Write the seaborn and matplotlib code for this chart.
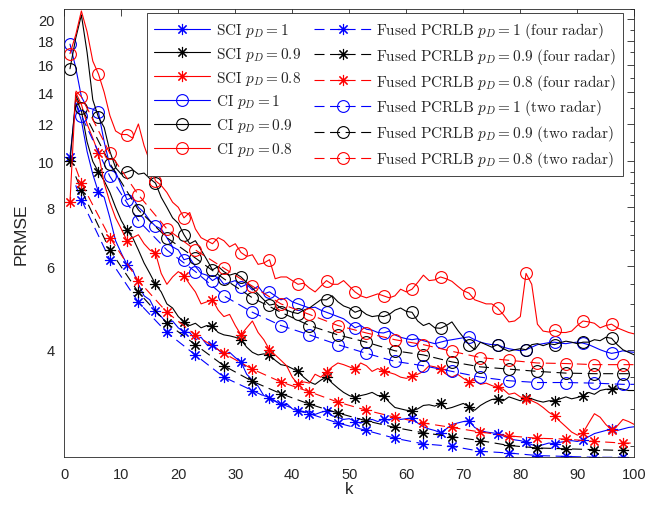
"""PRMSE of SCI / CI fusion vs fused PCRLB (log y axis)."""

import matplotlib
matplotlib.use("Agg")
import matplotlib.pyplot as plt
import numpy as np
import seaborn as sns

# ---- data ------------------------------------------------------------------
k = list(range(1, 101))

sci_pd1 = [10.2, 13.3, 12.2, 10.5, 9.4, 8.6, 8.4, 7.6, 6.8, 6.4,
           6.05, 5.9, 5.5, 5.2, 5.1, 4.83, 4.7, 4.55, 4.6, 4.45,
           4.36, 4.35, 4.2, 4.25, 4.1, 4.1, 4.0, 3.9, 3.95, 3.85,
           3.77, 3.55, 3.45, 3.35, 3.2, 3.17, 3.12, 3.05, 3.08, 3.0,
           2.97, 2.95, 2.97, 2.92, 2.95, 2.97, 2.9, 2.88, 2.85, 2.86,
           2.82, 2.8, 2.83, 2.85, 2.82, 2.86, 2.84, 2.88, 2.85, 2.86,
           2.87, 2.8, 2.75, 2.72, 2.7, 2.67, 2.72, 2.78, 2.8, 2.82,
           2.83, 2.74, 2.7, 2.68, 2.67, 2.66, 2.63, 2.6, 2.58, 2.57,
           2.55, 2.52, 2.5, 2.52, 2.54, 2.53, 2.55, 2.56, 2.57, 2.56,
           2.58, 2.62, 2.66, 2.68, 2.7, 2.72, 2.7, 2.72, 2.74, 2.75]

sci_pd09 = [10.0, 13.6, 12.8, 11.0, 10.0, 9.5, 9.1, 8.6, 8.0, 7.5,
            7.15, 6.9, 6.5, 6.1, 5.8, 5.5, 5.3, 5.0, 4.9, 4.7,
            4.58, 4.5, 4.55, 4.45, 4.5, 4.48, 4.35, 4.3, 4.28, 4.25,
            4.2, 4.05, 3.95, 3.9, 3.92, 3.9, 3.8, 3.72, 3.7, 3.65,
            3.6, 3.5, 3.42, 3.38, 3.45, 3.5, 3.4, 3.32, 3.25, 3.2,
            3.17, 3.2, 3.22, 3.25, 3.2, 3.2, 3.1, 3.02, 3.0, 2.98,
            2.97, 3.0, 3.05, 3.06, 3.04, 3.08, 3.0, 3.02, 3.05, 3.08,
            3.03, 2.98, 3.05, 3.1, 3.14, 3.15, 3.12, 3.18, 3.15, 3.12,
            3.17, 3.15, 3.12, 3.1, 3.12, 3.12, 3.15, 3.18, 3.15, 3.17,
            3.2, 3.25, 3.22, 3.28, 3.3, 3.3, 3.32, 3.3, 3.28, 3.28]

sci_pd08 = [8.2, 14.0, 13.2, 12.0, 11.2, 10.4, 9.0, 8.2, 7.6, 7.2,
            6.8, 6.9, 7.0, 6.7, 6.5, 6.4, 5.8, 5.5, 5.7, 5.85,
            5.74, 5.5, 5.3, 5.0, 5.05, 5.1, 4.85, 4.7, 4.75, 4.5,
            4.3, 4.45, 4.6, 4.35, 4.2, 4.0, 3.9, 3.8, 3.7, 3.5,
            3.38, 3.42, 3.4, 3.55, 3.5, 3.59, 3.68, 3.75, 3.72, 3.68,
            3.64, 3.75, 3.7, 3.6, 3.65, 3.6, 3.58, 3.55, 3.5, 3.48,
            3.52, 3.55, 3.6, 3.7, 3.68, 3.64, 3.55, 3.5, 3.55, 3.48,
            3.42, 3.45, 3.38, 3.4, 3.36, 3.33, 3.3, 3.22, 3.24, 3.18,
            3.15, 3.12, 3.08, 3.02, 2.95, 2.9, 2.82, 2.75, 2.68, 2.64,
            2.67, 2.8, 2.93, 2.88, 2.78, 2.71, 2.76, 2.85, 2.82, 2.78]

ci_pd1 = [17.7, 15.8, 13.7, 13.0, 12.9, 12.7, 11.0, 9.8, 9.5, 8.9,
          8.3, 8.4, 8.0, 7.8, 7.5, 7.3, 7.2, 6.9, 6.6, 6.5,
          6.2, 6.25, 6.0, 5.8, 5.75, 5.6, 5.7, 5.5, 5.55, 5.6,
          5.43, 5.5, 5.35, 5.45, 5.25, 5.3, 5.2, 5.1, 5.15, 5.05,
          5.0, 4.95, 4.9, 4.92, 4.85, 4.8, 4.75, 4.7, 4.65, 4.55,
          4.45, 4.5, 4.42, 4.4, 4.35, 4.34, 4.38, 4.3, 4.25, 4.22,
          4.2, 4.22, 4.18, 4.15, 4.12, 4.15, 4.18, 4.2, 4.22, 4.24,
          4.26, 4.2, 4.15, 4.12, 4.1, 4.1, 4.05, 4.02, 4.0, 3.98,
          4.0, 4.05, 4.1, 4.12, 4.14, 4.15, 4.13, 4.12, 4.14, 4.15,
          4.13, 4.1, 4.05, 4.0, 3.96, 3.93, 3.95, 3.98, 3.96, 3.95]

ci_pd09 = [15.7, 18.2, 20.4, 17.0, 13.5, 12.4, 11.8, 10.5, 9.7, 9.4,
           9.5, 9.6, 9.4, 9.45, 9.2, 9.0, 8.4, 8.0, 7.6, 7.4,
           7.0, 6.7, 6.8, 6.5, 6.2, 5.9, 6.0, 5.85, 5.75, 5.8,
           5.7, 5.55, 5.4, 5.25, 5.1, 4.97, 5.0, 4.9, 4.85, 4.8,
           4.77, 4.85, 4.9, 5.0, 5.1, 5.1, 5.2, 5.05, 4.95, 4.9,
           4.8, 4.85, 4.75, 4.7, 4.72, 4.7, 4.75, 4.85, 4.9, 4.82,
           4.8, 4.6, 4.5, 4.55, 4.45, 4.44, 4.5, 4.58, 4.4, 4.25,
           4.1, 4.0, 4.15, 4.1, 4.05, 4.1, 4.02, 3.97, 4.0, 4.02,
           4.0, 4.1, 4.12, 4.08, 4.12, 4.1, 4.14, 4.17, 4.15, 4.12,
           4.15, 4.15, 4.2, 4.18, 4.25, 4.23, 4.1, 4.0, 3.95, 3.9]

ci_pd08 = [16.9, 18.5, 20.8, 18.8, 16.3, 15.3, 14.0, 12.5, 11.6, 11.4,
           11.4, 11.2, 12.0, 10.8, 10.0, 9.1, 8.9, 8.6, 8.2, 8.0,
           7.6, 7.8, 7.2, 6.9, 6.8, 6.7, 6.9, 6.8, 6.6, 6.7,
           6.42, 6.3, 6.35, 6.06, 6.1, 6.2, 5.65, 5.7, 5.7, 5.6,
           5.5, 5.53, 5.4, 5.3, 5.45, 5.6, 5.5, 5.5, 5.6, 5.45,
           5.3, 5.2, 5.15, 5.2, 5.25, 5.2, 5.15, 5.2, 5.37, 5.3,
           5.37, 5.55, 5.75, 5.6, 5.62, 5.7, 5.65, 5.58, 5.45, 5.33,
           5.27, 5.1, 5.05, 5.0, 5.0, 4.9, 4.75, 4.58, 4.6, 4.7,
           5.8, 5.5, 4.53, 4.38, 4.36, 4.4, 4.35, 4.35, 4.38, 4.5,
           4.6, 4.58, 4.55, 4.45, 4.5, 4.53, 4.45, 4.4, 4.35, 4.32]

# PCRLB curves are smooth; read at the marker steps
k_bound = [2, 3, 8, 13, 18, 23, 28, 33, 38, 43, 48,
           53, 58, 63, 68, 73, 78, 83, 88, 93, 98, 100]

four_pd1 = [8.9, 8.3, 6.2, 5.04, 4.35, 3.9, 3.5, 3.28, 3.07, 2.93, 2.8,
            2.7, 2.6, 2.53, 2.5, 2.44, 2.42, 2.39, 2.38, 2.37, 2.37, 2.36]
four_pd09 = [9.3, 8.7, 6.5, 5.29, 4.55, 4.1, 3.7, 3.43, 3.23, 3.07, 2.94,
             2.83, 2.74, 2.67, 2.62, 2.57, 2.51, 2.48, 2.47, 2.46, 2.45, 2.45]
four_pd08 = [9.7, 9.0, 6.9, 5.6, 4.8, 4.3, 3.93, 3.64, 3.42, 3.26, 3.1,
             2.98, 2.88, 2.8, 2.74, 2.68, 2.63, 2.6, 2.59, 2.56, 2.54, 2.54]
two_pd1 = [13.3, 12.5, 9.3, 7.5, 6.5, 5.85, 5.2, 4.8, 4.5, 4.3, 4.1,
           3.93, 3.78, 3.7, 3.6, 3.5, 3.44, 3.41, 3.41, 3.4, 3.38, 3.38]
two_pd09 = [13.8, 13.0, 9.9, 7.9, 6.9, 6.25, 5.65, 5.15, 4.8, 4.5, 4.3,
            4.15, 3.98, 3.9, 3.77, 3.68, 3.64, 3.6, 3.57, 3.56, 3.56, 3.56]
two_pd08 = [14.1, 13.7, 10.4, 8.5, 7.2, 6.5, 5.95, 5.45, 5.0, 4.75, 4.5,
            4.34, 4.2, 4.1, 3.97, 3.85, 3.8, 3.75, 3.74, 3.72, 3.72, 3.72]

y_major = [4, 6, 8, 10, 12, 14, 16, 18, 20]

# ---- style -----------------------------------------------------------------
sns.set_theme(style="white")
plt.rcParams["font.family"] = ["Liberation Sans", "DejaVu Sans"]
plt.rcParams["mathtext.fontset"] = "cm"
plt.rcParams["axes.edgecolor"] = "#262626"
plt.rcParams["xtick.color"] = "#262626"
plt.rcParams["ytick.color"] = "#262626"

BLUE, BLACK, RED = "#0000ff", "#000000", "#ff0000"
AST = (8, 2, 0)  # 8-armed asterisk like MATLAB '*'
DASH = (0, (9, 5))

fig = plt.figure(figsize=(6.48, 5.10), dpi=100)
ax = fig.add_axes([0.0992, 0.1014, 0.8797, 0.8790])

solid = [
    (sci_pd1, BLUE, AST, r"$\mathrm{SCI}\ p_D = 1$"),
    (sci_pd09, BLACK, AST, r"$\mathrm{SCI}\ p_D = 0.9$"),
    (sci_pd08, RED, AST, r"$\mathrm{SCI}\ p_D = 0.8$"),
    (ci_pd1, BLUE, "o", r"$\mathrm{CI}\ p_D = 1$"),
    (ci_pd09, BLACK, "o", r"$\mathrm{CI}\ p_D = 0.9$"),
    (ci_pd08, RED, "o", r"$\mathrm{CI}\ p_D = 0.8$"),
]
bound = [
    (four_pd1, BLUE, AST, r"$\mathrm{Fused\ PCRLB}\ p_D = 1\ \mathrm{(four\ radar)}$"),
    (four_pd09, BLACK, AST, r"$\mathrm{Fused\ PCRLB}\ p_D = 0.9\ \mathrm{(four\ radar)}$"),
    (four_pd08, RED, AST, r"$\mathrm{Fused\ PCRLB}\ p_D = 0.8\ \mathrm{(four\ radar)}$"),
    (two_pd1, BLUE, "o", r"$\mathrm{Fused\ PCRLB}\ p_D = 1\ \mathrm{(two\ radar)}$"),
    (two_pd09, BLACK, "o", r"$\mathrm{Fused\ PCRLB}\ p_D = 0.9\ \mathrm{(two\ radar)}$"),
    (two_pd08, RED, "o", r"$\mathrm{Fused\ PCRLB}\ p_D = 0.8\ \mathrm{(two\ radar)}$"),
]

def marker_kw(color, marker):
    size = 8.5 if marker == "o" else 8
    return dict(marker=marker, markersize=size, markeredgecolor=color,
                markerfacecolor="none", markeredgewidth=0.8)

for vals, color, marker, label in solid:
    sns.lineplot(x=k, y=vals, ax=ax, color=color, lw=0.8, label=label,
                 markevery=slice(0, None, 5), **marker_kw(color, marker))

for vals, color, marker, label in bound:
    sns.lineplot(x=k_bound, y=vals, ax=ax, color=color, lw=0.8, label=label,
                 linestyle=DASH, markevery=slice(1, 21),
                 **marker_kw(color, marker))

ax.set_yscale("log")
ax.set_xlim(0, 100)
ax.set_ylim(2.37, 21.0)
ax.set_xticks(range(0, 101, 10))
ax.set_yticks(y_major)
ax.set_yticklabels([str(v) for v in y_major])
minor = [v for v in np.arange(2.5, 10, 0.5) if v not in y_major] + [11, 13, 15, 17, 19, 21]
ax.set_yticks(minor, minor=True)
ax.yaxis.set_minor_formatter(matplotlib.ticker.NullFormatter())
ax.tick_params(which="both", direction="in", top=True, right=True,
               labelsize=10.5, width=0.6)
ax.tick_params(which="major", length=5)
ax.tick_params(which="minor", length=3)
ax.tick_params(axis="x", which="major", pad=7)
ax.tick_params(axis="y", which="major", pad=7)
for sp in ax.spines.values():
    sp.set_linewidth(0.6)

ax.set_xlabel("k", fontsize=12, labelpad=0)
ax.set_ylabel("PRMSE", fontsize=12.5, labelpad=7)

leg = ax.legend(ncol=2, loc="upper right", bbox_to_anchor=(0.98, 0.991),
                borderaxespad=0, fontsize=11, frameon=True, fancybox=False,
                edgecolor="#262626", framealpha=1, handlelength=3.7,
                handletextpad=0.35, columnspacing=0.9, labelspacing=0.38,
                borderpad=0.45)
leg.get_frame().set_linewidth(0.6)

fig.savefig("out.png", dpi=100)
